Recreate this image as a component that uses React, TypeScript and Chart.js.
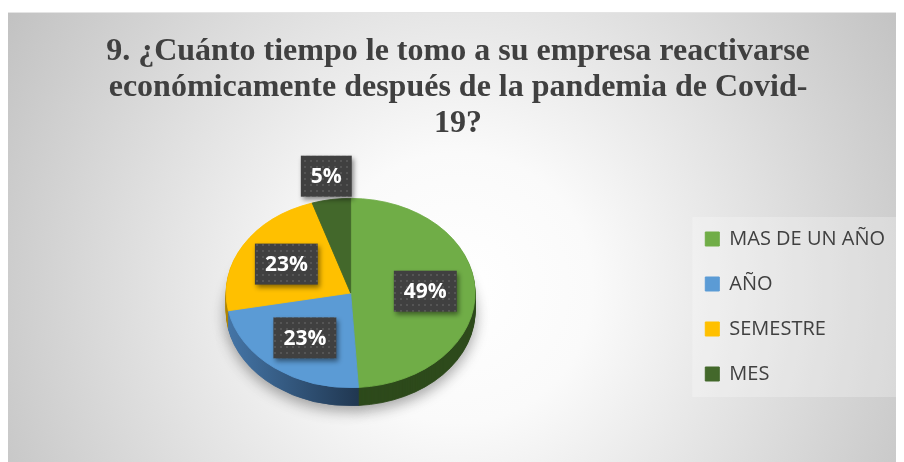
import React, { useEffect, useRef } from 'react';
import { Chart, registerables } from 'chart.js';

Chart.register(...registerables);

const categories = ['MAS DE UN AÑO', 'AÑO', 'SEMESTRE', 'MES'];
const values = [49, 23, 23, 5];
const titleLines = [
  '9. ¿Cuánto tiempo le tomo a su empresa reactivarse',
  'económicamente después de la pandemia de Covid-',
  '19?',
];

const topColors = ['#70ad47', '#5b9bd5', '#ffc000', '#43682b'];
const sideColors = ['#2d4a1b', '#2f5680', '#b08500', '#2b441c'];

const SQUASH = 0.76;
const DEPTH = 18;

let dotPattern: CanvasPattern | null = null;
function getPattern(ctx: CanvasRenderingContext2D) {
  if (dotPattern) return dotPattern;
  const pc = document.createElement('canvas');
  pc.width = 6;
  pc.height = 6;
  const p = pc.getContext('2d')!;
  p.fillStyle = '#404040';
  p.fillRect(0, 0, 6, 6);
  p.fillStyle = '#555555';
  p.fillRect(2, 2, 2, 2);
  dotPattern = ctx.createPattern(pc, 'repeat');
  return dotPattern;
}

const background = {
  id: 'background',
  beforeDraw(chart: any) {
    const { ctx, width, height } = chart;
    ctx.save();
    ctx.fillStyle = '#ffffff';
    ctx.fillRect(0, 0, width, height);
    const g = ctx.createRadialGradient(450, 280, 0, 450, 280, 540);
    g.addColorStop(0, '#ffffff');
    g.addColorStop(0.25, '#fafafa');
    g.addColorStop(1, '#c0c0c0');
    ctx.fillStyle = g;
    ctx.fillRect(0, 4, width, height - 4);
    ctx.fillStyle = '#e4e4e4';
    ctx.fillRect(0, 4, width, 1);
    // legend panel
    const lg = chart.legend;
    if (lg && lg.legendHitBoxes && lg.legendHitBoxes.length) {
      const hb = lg.legendHitBoxes;
      const first = hb[0];
      const last = hb[hb.length - 1];
      const x0 = first.left - 13;
      const y0 = first.top - 12;
      const x1 = width - 6;
      const y1 = last.top + last.height + 13;
      ctx.fillStyle = 'rgba(255,255,255,0.25)';
      ctx.fillRect(x0, y0, x1 - x0, y1 - y0);
    }
    ctx.restore();
  },
};

const pie3d = {
  id: 'pie3d',
  beforeDatasetsDraw(chart: any) {
    const ctx = chart.ctx;
    const arcs = chart.getDatasetMeta(0).data;
    ctx.save();
    if (!arcs.length) return;
    const cx = arcs[0].x;
    const cy = arcs[0].y;
    const R = arcs[0].outerRadius;
    const sideFill = (i: number) => {
      if (i === 1) {
        const g = ctx.createLinearGradient(cx - R, 0, cx + R * 0.1, 0);
        g.addColorStop(0, '#4576a8');
        g.addColorStop(1, '#1f354e');
        return g;
      }
      return sideColors[i];
    };
    const layer = (d: number, shadow: boolean) => {
      ctx.save();
      if (shadow) {
        ctx.shadowColor = 'rgba(0,0,0,0.35)';
        ctx.shadowBlur = 14;
        ctx.shadowOffsetY = 5;
      }
      ctx.translate(0, d);
      ctx.translate(cx, cy);
      ctx.scale(1, SQUASH);
      ctx.translate(-cx, -cy);
      arcs.forEach((arc: any, i: number) => {
        const saved = arc.options;
        const c = sideFill(i);
        arc.options = Object.create(saved, {
          backgroundColor: { value: c },
          borderColor: { value: c },
          borderWidth: { value: 1 },
        });
        arc.draw(ctx);
        arc.options = saved;
      });
      ctx.restore();
    };
    layer(DEPTH, true);
    for (let d = DEPTH - 1; d >= 1; d--) layer(d, false);
    ctx.translate(cx, cy);
    ctx.scale(1, SQUASH);
    ctx.translate(-cx, -cy);
  },
  afterDatasetsDraw(chart: any) {
    const ctx = chart.ctx;
    ctx.restore();
    const arcs = chart.getDatasetMeta(0).data;
    if (!arcs.length) return;
    const cx = arcs[0].x;
    const cy = arcs[0].y;
    const R = arcs[0].outerRadius;
    const total = values.reduce((a, b) => a + b, 0);
    ctx.save();
    ctx.font = 'bold 21px "Open Sans"';
    ctx.textAlign = 'center';
    ctx.textBaseline = 'middle';
    arcs.forEach((arc: any, i: number) => {
      const mid = (arc.startAngle + arc.endAngle) / 2;
      const frac = values[i] / total;
      const f = frac < 0.1 ? 1.25 : 0.6;
      const x = cx + Math.cos(mid) * R * f;
      const y = cy + Math.sin(mid) * R * f * SQUASH;
      const text = Math.round(frac * 100) + '%';
      const w = ctx.measureText(text).width + 20;
      const h = 41;
      ctx.save();
      ctx.shadowColor = 'rgba(0,0,0,0.45)';
      ctx.shadowBlur = 5;
      ctx.shadowOffsetX = 2;
      ctx.shadowOffsetY = 3;
      ctx.fillStyle = getPattern(ctx) || '#404040';
      ctx.fillRect(x - w / 2, y - h / 2, w, h);
      ctx.restore();
      ctx.fillStyle = '#ffffff';
      ctx.fillText(text, x, y + 1);
    });
    ctx.restore();
  },
};

export default function App() {
  const ref = useRef<HTMLCanvasElement | null>(null);
  useEffect(() => {
    if (!ref.current) return;
    const chart = new Chart(ref.current, {
      type: 'pie',
      data: {
        labels: categories,
        datasets: [
          {
            data: values,
            backgroundColor: topColors,
            borderColor: topColors,
            borderWidth: 1,
            clip: false,
          } as any,
        ],
      },
      options: {
        animation: false,
        responsive: true,
        maintainAspectRatio: false,
        layout: { padding: { left: 13, right: 9, top: 0, bottom: 44 } },
        plugins: {
          tooltip: { enabled: false },
          title: {
            display: true,
            text: titleLines,
            color: '#404040',
            font: { family: '"Liberation Serif", "Times New Roman", serif', size: 32, weight: 'bold', lineHeight: 1.125 },
            padding: { top: 26, bottom: 26 },
          },
          legend: {
            display: true,
            position: 'right',
            fullSize: false,
            align: 'center',
            title: { display: true, text: '', font: { size: 10, lineHeight: 1 }, padding: { top: 17, bottom: 0 } },
            labels: {
              boxWidth: 14,
              boxHeight: 14,
              padding: 25,
              color: '#404040',
              font: { family: '"Open Sans"', size: 20 },
            },
          },
        },
      },
      plugins: [background, pie3d],
    });
    return () => chart.destroy();
  }, []);
  return (
    <div style={{ width: 896, height: 454, position: 'relative' }}>
      <canvas ref={ref} />
    </div>
  );
}
